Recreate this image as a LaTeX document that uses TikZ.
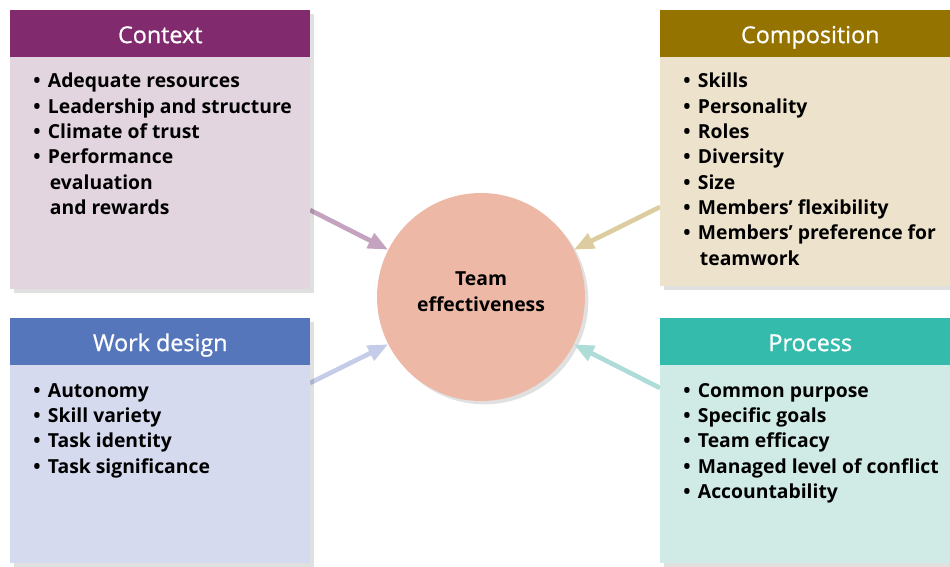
\documentclass[tikz,border=0pt]{standalone}
\usepackage{fontspec}
\setmainfont{Open Sans}
\newfontfamily\headfont{Open Sans}[FakeBold=0.8]
\usetikzlibrary{positioning,arrows.meta,shadows}

\definecolor{ctxhead}{HTML}{822A6E}
\definecolor{ctxbody}{HTML}{E3D5DF}
\definecolor{ctxline}{HTML}{C4A3C1}
\definecolor{comhead}{HTML}{957300}
\definecolor{combody}{HTML}{EDE2CC}
\definecolor{comline}{HTML}{DCCCA0}
\definecolor{wrkhead}{HTML}{5676BC}
\definecolor{wrkbody}{HTML}{D5DAEE}
\definecolor{wrkline}{HTML}{C4CCE8}
\definecolor{prchead}{HTML}{34BBAB}
\definecolor{prcbody}{HTML}{D0EAE5}
\definecolor{prcline}{HTML}{ADDDD6}
\definecolor{teamfill}{HTML}{EDB8A5}

\newcommand{\itm}[1]{\makebox[11pt][l]{\textbullet}#1}
\newcommand{\cont}[1]{\hspace*{12.5pt}#1}

\tikzset{
  panel/.style={anchor=north west, inner sep=0pt, minimum width=225pt, fill=#1,
    drop shadow={shadow xshift=2.5pt, shadow yshift=-2.5pt, fill=black, opacity=0.12}},
  head/.style={anchor=north west, inner sep=0pt, minimum width=225pt, minimum height=35.25pt,
    text height=15pt, text depth=1pt,
    fill=#1, text=white, font=\headfont\fontsize{17.5}{21}\selectfont},
  items/.style={anchor=north west, inner sep=0pt, align=left,
    font=\bfseries\fontsize{14.5}{19}\selectfont},
  feed/.style={draw=#1, line width=3.5pt, -{Triangle[length=15pt,width=12pt]}},
}

\begin{document}
\begin{tikzpicture}[x=0.75pt,y=-0.75pt]
\useasboundingbox (0,0) rectangle (950,567);

\coordinate (ctxfrom) at (310,210);
\coordinate (comfrom) at (660,207);
\coordinate (wrkfrom) at (310,383);
\coordinate (prcfrom) at (660,388);

\node[circle, fill=teamfill, minimum size=156pt, inner sep=0pt,
  drop shadow={shadow xshift=2.5pt, shadow yshift=-2.5pt, fill=black, opacity=0.12}]
  (team) at (481,297) {};
\node[align=center, inner sep=0pt, font=\bfseries\fontsize{14.5}{19.5}\selectfont]
  (teamtext) at (481,292) {Team\\effectiveness};

\draw[feed=ctxline] (ctxfrom) -- (team.153);
\draw[feed=comline] (comfrom) -- (team.27);
\draw[feed=wrkline] (wrkfrom) -- (team.207);
\draw[feed=prcline] (prcfrom) -- (team.333);

% Context
\node[panel=ctxbody, minimum height=209.25pt] (ctxbox) at (10,10) {};
\node[head=ctxhead] (ctxtitle) at (10,10) {Context};
\node[items] (ctxlist) at (33,73) {\itm{Adequate resources}\\\itm{Leadership and structure}\\
  \itm{Climate of trust}\\\itm{Performance}\\\cont{evaluation}\\\cont{and rewards}};

% Composition
\node[panel=combody, minimum height=207pt] (combox) at (660,10) {};
\node[head=comhead] (comtitle) at (660,10) {Composition};
\node[items] (comlist) at (683,73) {\itm{Skills}\\\itm{Personality}\\\itm{Roles}\\\itm{Diversity}\\
  \itm{Size}\\\itm{Members’ flexibility}\\\itm{Members’ preference for}\\\cont{teamwork}};

% Work design
\node[panel=wrkbody, minimum height=183.75pt] (wrkbox) at (10,318) {};
\node[head=wrkhead] (wrktitle) at (10,318) {Work design};
\node[items] (wrklist) at (33,383) {\itm{Autonomy}\\\itm{Skill variety}\\\itm{Task identity}\\
  \itm{Task significance}};

% Process
\node[panel=prcbody, minimum height=183.75pt] (prcbox) at (660,318) {};
\node[head=prchead] (prctitle) at (660,318) {Process};
\node[items] (prclist) at (683,383) {\itm{Common purpose}\\\itm{Specific goals}\\\itm{Team efficacy}\\
  \itm{Managed level of conflict}\\\itm{Accountability}};

\end{tikzpicture}
\end{document}
